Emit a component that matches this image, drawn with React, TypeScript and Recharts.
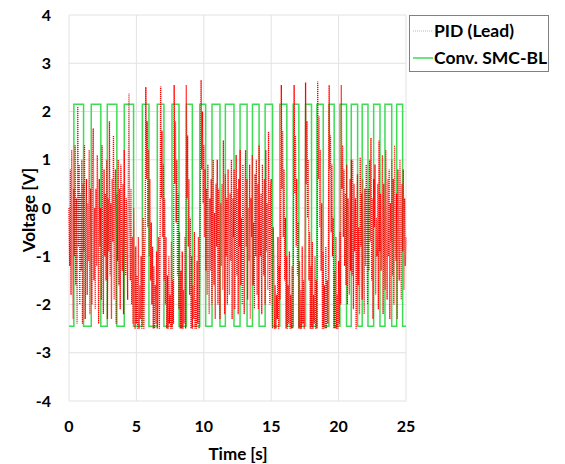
import React from 'react';
import { CartesianGrid, Label, Line, LineChart, XAxis, YAxis } from 'recharts';

// PID (Lead) controller output, sampled every 0.05 s from 0 to 25 s (one row per second)
const pidStep = 0.05;
const pidVolts = [
  0.0, -1.2, 0.8, -1.8, 1.2, -0.5, -2.3, 0.4, -1.0, 1.3, -1.6, 0.2, -2.4, 2.1, -0.8, 0.9, -2.0, 0.3, -1.3, 1.0,
  -2.4, 0.5, -0.9, 1.3, -2.3, -0.2, 0.6, -1.8, 0.1, -1.1, 1.2, -2.2, 0.4, -0.6, -2.0, 0.9, 1.65, -1.5, 0.0, -2.1,
  0.4, -1.2, 1.1, -0.4, -2.4, 0.6, -0.8, 0.0, -1.9, 1.3, -0.6, -2.2, 0.8, -1.0, 0.3, -1.5, 1.0, -2.3, 0.2, -0.9,
  1.8, -1.4, 0.1, -2.3, 0.6, -0.7, 1.5, -1.9, -0.2, 0.8, -2.4, 0.3, -1.1, 1.0, -1.6, 0.4, -2.1, 0.9, -0.5, -1.3,
  0.5, -2.2, 1.2, -0.6, -1.4, 0.2, -0.9, -1.9, 0.7, 2.38, -0.3, -1.5, 0.4, -2.0, -0.6, -2.4, 0.0, -1.2, -2.5, -0.8,
  -2.4, -1.4, -2.5, -0.6, -2.5, -1.6, -2.3, -1.0, -2.5, -1.8, -0.2, -2.5, -1.0, -0.5, 2.51, 0.6, 1.8, -0.4, 1.2, -1.0,
  0.6, -1.5, -0.3, -2.0, -0.8, -2.5, -1.2, -2.5, -1.6, -2.4, -0.9, -2.5, -1.8, -0.6, -2.5, -1.1, 2.52, 0.2, 1.6, -0.6,
  0.9, -1.5, 0.2, -2.0, -0.6, -2.5, -1.4, -2.5, -1.0, -2.4, -1.8, -2.5, -0.7, -2.5, -1.5, -2.4, 2.55, 0.5, 1.8, -0.3,
  1.0, -1.4, 0.3, -2.1, -0.5, -2.5, -1.3, -2.5, -0.9, -2.5, -1.7, -2.4, -0.6, -2.5, 2.55, 0.2, 1.5, -0.8, 0.6, -1.8,
  -0.2, -2.5, -1.0, -2.5, -1.6, -2.3, -0.5, -2.5, -1.9, -2.5, -1.1, -2.4, -0.6, -2.5, -1.4, 0.4, 2.65, 0.8, 2.0, 0.1,
  1.3, -0.6, 0.8, -1.3, 0.4, -1.8, 0.9, -0.9, -2.2, 0.2, -1.3, 0.6, -2.0, -0.4, 1.0, -1.6, -0.1, -2.3, 0.5, -0.8,
  1.0, -2.0, 0.4, -0.9, -2.3, 0.1, -1.2, 0.5, -1.7, 1.4, -0.6, -2.2, 0.7, -1.0, 0.2, -2.0, 0.8, -0.5, -1.8, 0.3,
  -1.1, 1.0, -2.3, 0.2, -0.6, 0.8, -2.1, -0.3, 1.1, -1.4, 0.4, -2.2, 0.6, -0.8, 1.2, -1.6, -0.2, -2.0, 0.9, -0.9,
  -2.2, 0.3, 1.2, -0.8, 0.6, -1.9, 0.0, -1.1, 0.9, -2.3, 0.2, -0.6, 1.1, -1.6, -0.3, -2.1, 0.7, -1.0, 1.0, -1.8,
  0.5, -2.1, 1.3, -0.4, -1.0, 0.3, -2.2, 0.9, -0.7, -1.4, 0.6, -2.0, 1.2, -0.9, 0.1, -1.7, 1.58, -0.5, -2.0, 0.4,
  0.6, -1.3, -2.5, -0.4, -1.0, -2.5, -1.6, -2.5, -1.8, -2.3, -0.6, -2.5, -1.2, -1.9, -0.8, 2.55, 0.4, 1.6, -0.6, 0.8,
  -1.5, -0.2, -2.5, -1.0, -2.5, -1.6, -2.4, -0.9, -2.5, -1.8, -2.5, -1.2, -2.5, -0.7, 2.55, 0.3, 1.5, -0.8, 0.6, -1.4,
  -0.3, -2.5, -1.1, -2.5, -1.7, -2.5, -0.8, -2.4, -1.5, -2.5, -0.6, 2.6, 0.5, 1.8, -0.2, 1.0, -1.5, -0.5, -2.5, -1.2,
  -2.5, -0.7, -2.5, -1.8, -2.4, -1.0, -2.5, -1.5, -2.5, 2.62, 0.6, 1.9, -0.4, 1.2, -1.3, 0.1, -2.5, -0.9, -2.5, -1.6,
  -2.5, -0.8, -2.5, -1.5, -2.4, -0.6, 2.55, 0.8, 1.5, -0.5, 0.9, -1.0, -0.2, -2.5, -1.3, -2.5, -0.6, -2.5, -1.8, -2.5,
  -1.1, -2.4, -0.5, -2.0, 2.55, 0.4, 1.3, -0.6, 0.8, -1.2, 0.3, -1.6, 0.9, -2.0, 0.2, -0.9, -1.8, 0.6, -1.3, 1.0,
  -1.4, 1.0, -2.1, 0.5, -0.9, 0.2, -2.5, -0.3, 0.7, -1.6, -0.4, -2.2, 1.05, -0.8, 0.3, -1.9, 0.6, -1.1, -2.2, 0.4,
  -1.2, 0.9, -0.5, -2.0, 0.4, -1.3, 1.0, -0.7, 1.45, -1.5, 0.2, -2.3, 0.6, -0.4, 0.9, -1.8, -0.2, -1.0, 0.5, -2.1,
  1.4, -0.9, 0.3, -1.3, -0.2, 1.1, -2.2, 0.5, -0.8, -1.7, 1.2, -0.4, -1.9, 0.6, -1.0, 0.8, -2.3, 0.1, -0.7, 1.0,
  -1.4, 0.6, -2.0, 1.3, -0.5, -1.1, 0.3, -2.3, 0.8, -0.6, -1.5, 1.0, -0.3, -1.9, 0.5, -0.9, 0.8, -1.7, 0.2, -1.2,
  -0.6,
];

// Conventional SMC-BL: switching instants [s] and the level held after each one [V]
const smcTimes = [
  0, 0.36, 1.08, 1.65, 2.36, 2.84, 3.55, 4.10, 4.79, 5.44, 5.93, 6.55, 7.04,
  7.64, 8.16, 8.71, 9.15, 9.70, 10.14, 10.61, 11.20, 11.60, 12.24, 12.69, 13.21,
  13.61, 14.10, 14.55, 15.10, 15.64, 16.16, 16.63, 17.05, 17.55, 17.99, 18.39,
  18.86, 19.28, 19.67, 20.10, 20.59, 20.94, 21.41, 21.75, 22.18, 22.60, 23.07,
  23.44, 23.94, 24.31, 24.75, 25,
];
const smcLevels = [
  -2.45, 2.15, -2.45, 2.15, -2.45, 2.15, -2.45, 2.15, -2.45, 2.15, -2.45, 2.15, -2.45,
  2.15, -2.45, 2.15, -2.45, 2.15, -2.45, 2.15, -2.45, 2.15, -2.45, 2.15, -2.45,
  2.15, -2.45, 2.15, -2.45, 2.15, -2.45, 2.15, -2.45, 2.15, -2.45, 2.15,
  -2.45, 2.15, -2.45, 2.15, -2.45, 2.15, -2.45, 2.15, -2.45, 2.15, -2.45,
  2.15, -2.45, 2.15, -2.45, -2.45,
];

const xTicks = [0, 5, 10, 15, 20, 25];
const yTicks = [-4, -3, -2, -1, 0, 1, 2, 3, 4];

const pidData = pidVolts.map((v, i) => ({ t: +(i * pidStep).toFixed(2), v }));
const smcData = smcTimes.map((t, i) => ({ t, v: smcLevels[i] }));

const FONT = 'Lato, "Open Sans", sans-serif';
const PID_COLOR = '#ff0000';
const SMC_COLOR = '#3ddc54';

function ChartLegend() {
  const row: React.CSSProperties = { display: 'flex', alignItems: 'center', height: 27 };
  const text: React.CSSProperties = { fontFamily: FONT, fontWeight: 700, fontSize: 17.5, color: '#000', marginLeft: 1 };
  return (
    <div style={{
      position: 'absolute', left: 409, top: 15, width: 140, height: 57, boxSizing: 'border-box',
      border: '1px solid #808080', background: '#fff', paddingTop: 1,
    }}>
      <div style={row}>
        <svg width={20} height={4} style={{ marginLeft: 3 }}>
          <line x1={0} y1={2} x2={20} y2={2} stroke="#f4a0a0" strokeWidth={1.2} strokeDasharray="1 1"/>
        </svg>
        <span style={text}>PID (Lead)</span>
      </div>
      <div style={row}>
        <svg width={20} height={4} style={{ marginLeft: 3 }}>
          <line x1={0} y1={2} x2={20} y2={2} stroke={SMC_COLOR} strokeWidth={1.5}/>
        </svg>
        <span style={text}>Conv. SMC-BL</span>
      </div>
    </div>
  );
}

export default function App() {
  const tick = { fontFamily: FONT, fontWeight: 700, fontSize: 16, fill: '#000' };
  return (
    <div style={{ position: 'absolute', left: 0, top: 0, width: 565, height: 464, background: '#fff' }}>
      <LineChart width={565} height={464} margin={{ top: 15, right: 159, left: 0, bottom: 33 }}>
        <CartesianGrid stroke="#e2e2e2" strokeWidth={1}/>
        <XAxis
          dataKey="t"
          type="number"
          domain={[0, 25]}
          ticks={xTicks}
          height={30}
          axisLine={false}
          tickLine={false}
          tickSize={0}
          tickMargin={20}
          tick={tick}
          interval={0}
        >
          <Label
            content={() => (
              <text x={238} y={453} textAnchor="middle" dominantBaseline="central"
                    style={{ fontFamily: FONT, fontWeight: 700, fontSize: 17 }}>Time [s]</text>
            )}
          />
        </XAxis>
        <YAxis
          type="number"
          domain={[-4, 4]}
          ticks={yTicks}
          width={69}
          axisLine={false}
          tickLine={false}
          tickSize={0}
          tickMargin={18}
          tick={tick}
          interval={0}
        >
          <Label
            content={() => (
              <text x={28} y={210} transform="rotate(-90 28 210)" textAnchor="middle" dominantBaseline="central"
                    style={{ fontFamily: FONT, fontWeight: 700, fontSize: 17 }}>Voltage [V]</text>
            )}
          />
        </YAxis>
        <Line
          data={smcData}
          dataKey="v"
          type="stepAfter"
          stroke={SMC_COLOR}
          strokeWidth={1.5}
          dot={false}
          isAnimationActive={false}
        />
        <Line
          data={pidData}
          dataKey="v"
          type="linear"
          stroke={PID_COLOR}
          strokeWidth={1.3}
          strokeDasharray="1 1"
          dot={false}
          isAnimationActive={false}
        />
      </LineChart>
      <ChartLegend/>
    </div>
  );
}
